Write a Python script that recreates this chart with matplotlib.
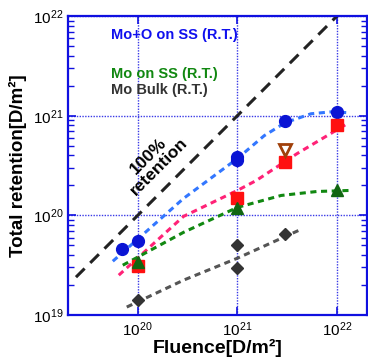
import matplotlib
matplotlib.use("Agg")
import matplotlib.pyplot as plt
import numpy as np

plt.rcParams['font.family'] = ['Liberation Sans', 'DejaVu Sans']
plt.rcParams['mathtext.fontset'] = 'custom'
plt.rcParams['mathtext.rm'] = 'Liberation Sans'
plt.rcParams['mathtext.it'] = 'Liberation Sans'
plt.rcParams['mathtext.bf'] = 'Liberation Sans:bold'

# Data (fluence D/m^2, retention D/m^2)
moo_x = [7e19, 1e20, 1e21, 1e21, 3e21, 1e22]
moo_y = [4.6e19, 5.5e19, 3.9e20, 3.6e20, 8.9e20, 1.1e21]
mo_red_x = [1e20, 1e21, 3e21, 1e22]
mo_red_y = [3.1e19, 1.48e20, 3.4e20, 8.0e20]
tri_down_x = [3e21]
tri_down_y = [4.5e20]
mo_ss_x = [1e20, 1e21, 1e22]
mo_ss_y = [3.4e19, 1.2e20, 1.8e20]
bulk_x = [1e20, 1e21, 1e21, 3e21]
bulk_y = [1.4e19, 5.0e19, 2.95e19, 6.5e19]

# Fit curves (log10 values)
fit_blue_lx = [19.75, 20.46, 21.0, 21.27, 21.48, 21.74, 21.95, 22.12]
fit_blue_ly = [19.54, 20.17, 20.57, 20.80, 20.93, 21.02, 21.04, 21.03]
fit_red_lx = [19.81, 20.46, 21.0, 21.19, 21.6, 22.12]
fit_red_ly = [19.40, 19.99, 20.25, 20.35, 20.62, 20.93]
fit_green_lx = [19.85, 20.46, 21.0, 21.44, 21.8, 22.12]
fit_green_ly = [19.50, 19.83, 20.08, 20.20, 20.24, 20.25]
fit_gray_lx = [19.89, 20.46, 21.0, 21.64]
fit_gray_ly = [19.08, 19.35, 19.57, 19.86]
ret100_x = [2.4e19, 1e22]

fig = plt.figure(figsize=(3.68, 3.58), dpi=100)
ax = fig.add_axes([0.185, 0.120, 0.812, 0.835])
ax.set_xscale('log')
ax.set_yscale('log')
ax.set_xlim(2e19, 2e22)
ax.set_ylim(1e19, 1e22)

gridc = '#3a3ae6'
for v in [1e20, 1e21, 1e22]:
    ax.axvline(v, color=gridc, lw=1.0, ls=(0, (1, 1)), zorder=1)
    ax.axhline(v, color=gridc, lw=1.0, ls=(0, (1, 1)), zorder=1)

ax.plot(ret100_x, ret100_x, color='#222222', lw=2.2, ls=(0, (4, 2.6)), zorder=2)

ax.plot(10**np.array(fit_blue_lx), 10**np.array(fit_blue_ly), color='#3377ff', lw=2.2, ls=(0, (2, 1.5)), zorder=2)
ax.plot(10**np.array(fit_red_lx), 10**np.array(fit_red_ly), color='#ff2277', lw=2.2, ls=(0, (2, 1.5)), zorder=2)
ax.plot(10**np.array(fit_green_lx), 10**np.array(fit_green_ly), color='#118811', lw=2.2, ls=(0, (2, 1.5)), zorder=2)
ax.plot(10**np.array(fit_gray_lx), 10**np.array(fit_gray_ly), color='#555555', lw=2.2, ls=(0, (2, 1.5)), zorder=2)

ax.plot(moo_x, moo_y, 'o', color='#0a14d4', ms=8.5, mec='#0a14d4', zorder=4)
ax.plot(mo_red_x, mo_red_y, 's', color='#ff1010', ms=8, mec='#ff1010', zorder=4)
ax.plot(mo_ss_x, mo_ss_y, '^', color='#116611', ms=8, zorder=5)
ax.plot(bulk_x, bulk_y, 'D', color='#333333', ms=6, zorder=4)
ax.plot(tri_down_x, tri_down_y, 'v', mfc='white', mec='#a0400a', mew=2, ms=8, zorder=4)

spc = '#1010e0'
for s in ax.spines.values():
    s.set_color(spc)
    s.set_linewidth(1.6)

ax.tick_params(which='both', direction='in', top=True, right=True, colors=spc,
               labelcolor='black', labelsize=11)
ax.tick_params(which='major', length=6, width=1.2)
ax.tick_params(which='minor', length=4, width=1.0)
ax.tick_params(axis='x', which='minor', length=0)
ax.set_xticks([1e20, 1e21, 1e22])
ax.set_yticks([1e19, 1e20, 1e21, 1e22])

ax.set_xlabel('Fluence[D/m²]', fontsize=14, fontweight='bold', labelpad=0)
ax.set_ylabel('Total retention[D/m²]', fontsize=13.5, fontweight='bold', labelpad=4)

ax.text(0.145, 0.936, 'Mo+O on SS (R.T.)', transform=ax.transAxes, color='#1010ee',
        fontsize=10.5, fontweight='bold', va='center')
ax.text(0.145, 0.805, 'Mo on SS (R.T.)', transform=ax.transAxes, color='#118811',
        fontsize=10.5, fontweight='bold', va='center')
ax.text(0.145, 0.754, 'Mo Bulk (R.T.)', transform=ax.transAxes, color='#333333',
        fontsize=10.5, fontweight='bold', va='center')
ax.text(0.285, 0.515, '100%\nretention', transform=ax.transAxes, color='black',
        fontsize=12.5, fontweight='bold', rotation=45, ha='center', va='center',
        multialignment='center', linespacing=1.0, zorder=3)

fig.savefig('out.png', dpi=100)
